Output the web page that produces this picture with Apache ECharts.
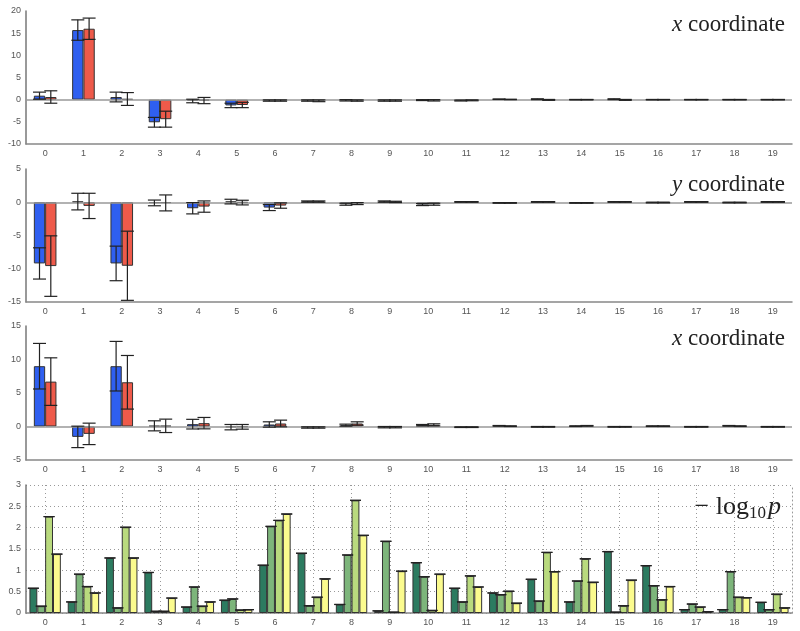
<!DOCTYPE html>
<html>
<head>
<meta charset="utf-8">
<script src="https://cdn.jsdelivr.net/npm/echarts@6/dist/echarts.min.js"></script>
<style>
  html, body { margin: 0; padding: 0; background: #fff; }
  #main { width: 800px; height: 631px; }
</style>
</head>
<body>
<div id="main"></div>
<script>
var categories = ['0','1','2','3','4','5','6','7','8','9','10','11','12','13','14','15','16','17','18','19'];

// panel 1: x coordinate
var p1Blue    = [0.9, 15.7, 0.6, -5.1, -0.3, -1.3, -0.2, -0.2, -0.15, -0.2, -0.1, -0.2, 0.1, 0.1, 0, 0.1, 0, 0, 0, 0];
var p1BlueErr = [0.8, 2.3, 1.1, 1.1, 0.4, 0.5, 0.15, 0.15, 0.15, 0.15, 0.1, 0.1, 0.05, 0.1, 0.05, 0.1, 0.05, 0.05, 0.05, 0.05];
var p1Red     = [0.6, 16.0, 0.15, -4.4, -0.2, -1.2, -0.2, -0.25, -0.2, -0.2, -0.15, -0.15, 0.05, -0.05, 0, -0.05, 0, 0, 0, 0];
var p1RedErr  = [1.4, 2.4, 1.45, 1.8, 0.7, 0.6, 0.15, 0.2, 0.15, 0.15, 0.15, 0.1, 0.05, 0.1, 0.05, 0.1, 0.05, 0.05, 0.05, 0.05];

// panel 2: y coordinate
var p2Blue    = [-9.2, 0.1, -9.2, -0.1, -0.9, 0.1, -0.8, 0.1, -0.3, 0.1, -0.35, 0.05, -0.1, 0.05, -0.1, 0.05, -0.05, 0.05, -0.05, 0.05];
var p2BlueErr = [2.35, 1.25, 2.6, 0.43, 0.85, 0.35, 0.45, 0.1, 0.15, 0.1, 0.15, 0.05, 0.05, 0.05, 0.05, 0.05, 0.05, 0.05, 0.05, 0.05];
var p2Red     = [-9.6, -0.55, -9.55, -0.1, -0.65, -0.05, -0.5, 0.1, -0.2, 0.05, -0.3, 0.05, -0.1, 0.05, -0.1, 0.05, -0.05, 0.05, -0.05, 0.05];
var p2RedErr  = [4.55, 1.9, 5.2, 1.2, 0.85, 0.35, 0.4, 0.1, 0.15, 0.1, 0.15, 0.05, 0.05, 0.05, 0.05, 0.05, 0.05, 0.05, 0.05, 0.05];

// panel 3: x coordinate
var p3Blue    = [9.0, -1.55, 9.0, 0.1, 0.35, -0.1, 0.3, -0.15, 0.2, -0.1, 0.2, -0.1, 0.1, -0.05, 0.05, -0.05, 0.05, -0.05, 0.1, -0.05];
var p3BlueErr = [3.4, 1.6, 3.7, 0.75, 0.72, 0.4, 0.4, 0.1, 0.15, 0.1, 0.1, 0.05, 0.05, 0.05, 0.05, 0.05, 0.05, 0.05, 0.05, 0.05];
var p3Red     = [6.7, -1.1, 6.6, 0.1, 0.5, -0.05, 0.45, -0.15, 0.45, -0.1, 0.25, -0.1, 0.05, -0.05, 0.1, -0.05, 0.05, -0.05, 0.05, -0.05];
var p3RedErr  = [3.55, 1.6, 4.0, 1.0, 0.85, 0.35, 0.5, 0.1, 0.25, 0.1, 0.15, 0.05, 0.05, 0.05, 0.05, 0.05, 0.05, 0.05, 0.05, 0.05];

// panel 4: -log10 p
var p4Dark   = [0.58, 0.26, 1.29, 0.95, 0.14, 0.30, 1.12, 1.40, 0.20, 0.05, 1.18, 0.58, 0.47, 0.79, 0.26, 1.44, 1.11, 0.08, 0.08, 0.25];
var p4Mid    = [0.16, 0.91, 0.12, 0.04, 0.61, 0.33, 2.03, 0.17, 1.36, 1.68, 0.85, 0.26, 0.43, 0.28, 0.75, 0.02, 0.64, 0.21, 0.97, 0.08];
var p4Light  = [2.26, 0.62, 2.01, 0.04, 0.16, 0.07, 2.17, 0.37, 2.64, 0.02, 0.06, 0.87, 0.51, 1.42, 1.27, 0.17, 0.31, 0.14, 0.37, 0.44];
var p4Yellow = [1.38, 0.47, 1.29, 0.35, 0.26, 0.08, 2.32, 0.80, 1.82, 0.98, 0.91, 0.61, 0.23, 0.97, 0.72, 0.77, 0.62, 0.03, 0.36, 0.12];

var BLUE = '#2f5ff0', RED = '#ee5a4a';
var GREENS = ['#2c7b60', '#7db57b', '#b9da7e', '#fbfb8e'];
var labelFont = { fontFamily: 'Liberation Sans', fontSize: 9, color: '#555' };
var dotted = { color: '#999', type: [1, 3], width: 1 };

function errorBar(n, idx, gap, capW) {
  return function (params, api) {
    var cat = api.value(0);
    var lo = api.coord([cat, api.value(1)]);
    var hi = api.coord([cat, api.value(2)]);
    var band = api.size([1, 0])[0];
    var bw = band * (1 - gap) / n;
    var x = lo[0] - band * (1 - gap) / 2 + (idx + 0.5) * bw;
    var st = { stroke: '#222', lineWidth: 1.2 };
    var kids = [
      { type: 'line', shape: { x1: x - capW / 2, y1: lo[1], x2: x + capW / 2, y2: lo[1] }, style: st },
      { type: 'line', shape: { x1: x - capW / 2, y1: hi[1], x2: x + capW / 2, y2: hi[1] }, style: st }
    ];
    if (lo[1] !== hi[1]) kids.push({ type: 'line', shape: { x1: x, y1: lo[1], x2: x, y2: hi[1] }, style: st });
    return { type: 'group', children: kids };
  };
}

function errData(vals, errs) {
  return vals.map(function (v, i) { return [i, v - errs[i], v + errs[i]]; });
}
function capData(vals) {
  return vals.map(function (v, i) { return [i, v, v]; });
}

var grids = [
  { left: 26, right: 8, top: 11, height: 133 },
  { left: 26, right: 8, top: 169, height: 133 },
  { left: 26, right: 8, top: 326, height: 134 },
  { left: 26, right: 8, top: 485, height: 128 }
];

var xAxes = grids.map(function (g, i) {
  return {
    type: 'category', gridIndex: i, data: categories,
    axisLine: { onZero: false, lineStyle: { color: '#888', width: 1.5 } },
    axisTick: { show: false },
    axisLabel: Object.assign({ margin: 5 }, labelFont),
    splitLine: { show: false }
  };
});
// helper axis for the dotted vertical lines through the category centres of the last panel
var halfSteps = [];
for (var h = 0; h <= categories.length * 2; h++) halfSteps.push(String(h));
xAxes.push({
  type: 'category', gridIndex: 3, data: halfSteps, boundaryGap: false, position: 'top',
  axisLine: { show: false }, axisTick: { show: false }, axisLabel: { show: false },
  splitLine: { show: true, interval: function (idx) { return idx % 2 === 1; }, lineStyle: dotted }
});

var ranges = [[-10, 20, 5], [-15, 5, 5], [-5, 15, 5], [0, 3, 0.5]];
var yAxes = ranges.map(function (r, i) {
  return {
    type: 'value', gridIndex: i, min: r[0], max: r[1], interval: r[2],
    axisLine: { show: true, lineStyle: { color: '#777', width: 1.5 } },
    axisTick: { show: false },
    axisLabel: Object.assign({ margin: 5 }, labelFont),
    splitLine: i === 3 ? { show: true, lineStyle: dotted } : { show: false }
  };
});
// dotted right border of the last panel
yAxes.push({
  type: 'value', gridIndex: 3, position: 'right', min: 0, max: 3, interval: 0.5,
  axisLine: { show: true, lineStyle: dotted },
  axisTick: { show: false }, axisLabel: { show: false }, splitLine: { show: false }
});

var series = [];
var pairs = [[p1Blue, p1BlueErr, p1Red, p1RedErr], [p2Blue, p2BlueErr, p2Red, p2RedErr], [p3Blue, p3BlueErr, p3Red, p3RedErr]];
pairs.forEach(function (p, i) {
  series.push({
    type: 'bar', xAxisIndex: i, yAxisIndex: i, data: p[0], barGap: '0%', barCategoryGap: '41%',
    itemStyle: { color: BLUE, borderColor: '#333', borderWidth: 1 },
    markLine: {
      silent: true, symbol: 'none', label: { show: false },
      lineStyle: { color: '#999', width: 1.5, type: 'solid' },
      data: [{ yAxis: 0 }]
    }
  });
  series.push({
    type: 'bar', xAxisIndex: i, yAxisIndex: i, data: p[2], barGap: '0%', barCategoryGap: '41%',
    itemStyle: { color: RED, borderColor: '#333', borderWidth: 1 }
  });
  series.push({ type: 'custom', xAxisIndex: i, yAxisIndex: i, z: 5, renderItem: errorBar(2, 0, 0.41, 13), encode: { x: 0, y: [1, 2] }, data: errData(p[0], p[1]) });
  series.push({ type: 'custom', xAxisIndex: i, yAxisIndex: i, z: 5, renderItem: errorBar(2, 1, 0.41, 13), encode: { x: 0, y: [1, 2] }, data: errData(p[2], p[3]) });
});

[p4Dark, p4Mid, p4Light, p4Yellow].forEach(function (vals, k) {
  series.push({
    type: 'bar', xAxisIndex: 3, yAxisIndex: 3, data: vals, barGap: '0%', barCategoryGap: '18%',
    itemStyle: { color: GREENS[k], borderColor: '#333', borderWidth: 1 }
  });
  series.push({ type: 'custom', xAxisIndex: 3, yAxisIndex: 3, z: 5, renderItem: errorBar(4, k, 0.18, 11), encode: { x: 0, y: [1, 2] }, data: capData(vals) });
});

var serif = 'Liberation Serif';
function coordTitle(letter, top) {
  return {
    text: '{i|' + letter + '}{n| coordinate}', right: 10, top: top,
    textStyle: { fontWeight: 'normal', rich: {
      i: { fontFamily: serif, fontStyle: 'italic', fontWeight: 'normal', fontSize: 23, color: '#222' },
      n: { fontFamily: serif, fontWeight: 'normal', fontSize: 23, color: '#222' }
    } }
  };
}

var chart = echarts.init(document.getElementById('main'));
chart.setOption({
  animation: false,
  backgroundColor: '#fff',
  title: [
    coordTitle('x', 8),
    coordTitle('y', 168),
    coordTitle('x', 322),
    {
      text: '{n|\u2212 log}{s|10}{i|p}', right: 14, top: 488,
      textStyle: { fontWeight: 'normal', rich: {
        n: { fontFamily: serif, fontWeight: 'normal', fontSize: 26, color: '#222' },
        s: { fontFamily: serif, fontWeight: 'normal', fontSize: 17, color: '#222', padding: [12, 2, 0, 0] },
        i: { fontFamily: serif, fontStyle: 'italic', fontWeight: 'normal', fontSize: 26, color: '#222' }
      } }
    }
  ],
  grid: grids,
  xAxis: xAxes,
  yAxis: yAxes,
  series: series
});
</script>
</body>
</html>
